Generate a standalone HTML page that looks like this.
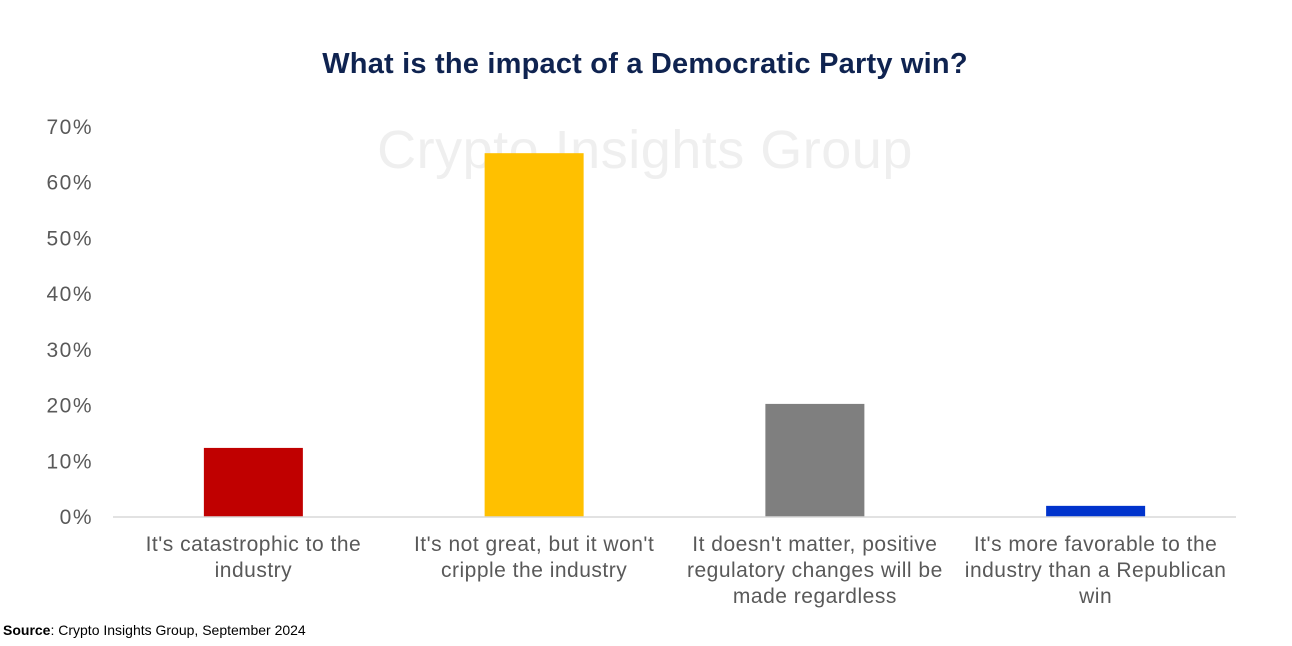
<!DOCTYPE html>
<html><head><meta charset="utf-8"><style>
body{margin:0;background:#fff;}
svg{display:block;font-family:"Liberation Sans",sans-serif;}
</style></head><body>
<svg id="chart" width="1292" height="646" viewBox="0 0 1292 646">
<text x="645" y="73" text-anchor="middle" font-size="29" font-weight="bold" fill="#0f2350" letter-spacing="0.2">What is the impact of a Democratic Party win?</text>
<text x="645" y="168" text-anchor="middle" font-size="54" fill="#efefef" letter-spacing="0.5">Crypto Insights Group</text>
<g id="yaxis"></g>
<g id="bars"></g>
<g id="xlabels"></g>
<line x1="113" y1="517" x2="1236" y2="517" stroke="#d9d9d9" stroke-width="1.5"/>
<text x="3" y="635" font-size="14" fill="#000"><tspan font-weight="bold">Source</tspan>: Crypto Insights Group, September 2024</text>
</svg>
<script>
const categories=[["It's catastrophic to the","industry"],["It's not great, but it won't","cripple the industry"],["It doesn't matter, positive","regulatory changes will be","made regardless"],["It's more favorable to the","industry than a Republican","win"]];
const values=[12.4,65.3,20.3,2.0];
const colors=["#c00000","#ffc000","#7f7f7f","#0033cc"];
const yTicks=[0,10,20,30,40,50,60,70];
const NS="http://www.w3.org/2000/svg";
const x0=113,x1=1236,yBase=517,yTop=127,yMax=70;
const y=v=>yBase-(v/yMax)*(yBase-yTop);
const bw=(x1-x0)/categories.length;
const xc=i=>x0+bw*(i+0.5);
const ya=document.getElementById('yaxis'),bg=document.getElementById('bars'),xl=document.getElementById('xlabels');
yTicks.forEach(t=>{const e=document.createElementNS(NS,'text');


e.setAttribute('x',93);e.setAttribute('y',y(t)+7);e.setAttribute('text-anchor','end');e.setAttribute('font-size','21');e.setAttribute('letter-spacing','1.5');e.setAttribute('fill','#595959');e.textContent=t+'%';ya.appendChild(e);});
values.forEach((v,i)=>{const r=document.createElementNS(NS,'rect');


r.setAttribute('x',xc(i)-49.5);r.setAttribute('width',99);r.setAttribute('y',y(v));r.setAttribute('height',yBase-y(v));r.setAttribute('fill',colors[i]);bg.appendChild(r);
const t=document.createElementNS(NS,'text');


t.setAttribute('text-anchor','middle');t.setAttribute('font-size','21');t.setAttribute('letter-spacing','0.5');t.setAttribute('fill','#595959');
categories[i].forEach((ln,j)=>{const s=document.createElementNS(NS,'tspan');s.setAttribute('x',xc(i));s.setAttribute('y',551+j*26);s.textContent=ln;t.appendChild(s);});
xl.appendChild(t);});
</script>
</body></html>
